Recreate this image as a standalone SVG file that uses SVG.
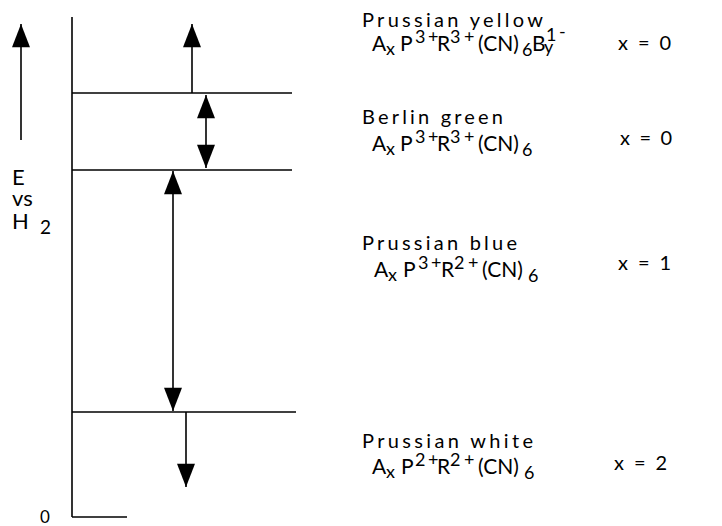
<svg xmlns="http://www.w3.org/2000/svg" width="722" height="526" viewBox="0 0 722 526">
<style>
.ln{stroke:#000;stroke-width:1.6;fill:none}
.ar{stroke:#000;stroke-width:1.6;fill:none;marker-end:url(#ah)}
.ar2{stroke:#000;stroke-width:1.6;fill:none;marker-end:url(#ah);marker-start:url(#ah)}
text{font-family:Lato,"Liberation Sans",sans-serif;fill:#000}
.t{font-size:20px}
.f{font-size:21px}
.s{font-size:18px}
.ax{font-size:22px}
</style>
<defs>
<marker id="ah" markerUnits="userSpaceOnUse" markerWidth="24" markerHeight="18" refX="22" refY="8.5" orient="auto-start-reverse" viewBox="0 0 22 17">
<path d="M0,0 L22,8.5 L0,17 z" fill="#000"/>
</marker>
</defs>
<rect width="722" height="526" fill="#fff"/>
<g id="axis">
<line class="ln" x1="72" y1="17" x2="72" y2="517"/>
<line class="ln" x1="72" y1="517" x2="127" y2="517"/>
<text class="ax" x="12" y="185">E</text>
<text class="ax" x="12" y="206">vs</text>
<text class="ax" x="12" y="229">H<tspan x="40" y="234" font-size="19">2</tspan></text>
<text x="40" y="523" font-size="17">0</text>
</g>
<g id="level-yellow">
<line class="ln" x1="72" y1="93" x2="292" y2="93"/>
<text class="t" x="362" y="27" textLength="181" lengthAdjust="spacing">Prussian yellow</text>
<text class="f" x="372" y="51">A<tspan class="s" x="386" y="55">x</tspan><tspan x="400" y="51">P</tspan><tspan class="s" x="415" y="43">3</tspan><tspan class="s" x="428" y="43">+</tspan><tspan x="437" y="51">R</tspan><tspan class="s" x="450" y="43">3</tspan><tspan class="s" x="464" y="43">+</tspan><tspan x="478" y="51">(CN)</tspan><tspan class="s" x="522" y="56">6</tspan><tspan x="532" y="51">B</tspan><tspan class="s" x="546" y="41">1</tspan><tspan class="s" x="544" y="53">y</tspan><tspan class="s" x="559" y="38">-</tspan></text>
<text class="t" x="618" y="50" textLength="53" lengthAdjust="spacing">x = 0</text>
</g>
<g id="level-berlin">
<line class="ln" x1="72" y1="170" x2="292" y2="170"/>
<text class="t" x="362" y="124" textLength="141" lengthAdjust="spacing">Berlin green</text>
<text class="f" x="372" y="151">A<tspan class="s" x="386" y="155">x</tspan><tspan x="400" y="151">P</tspan><tspan class="s" x="415" y="143">3</tspan><tspan class="s" x="428" y="143">+</tspan><tspan x="437" y="151">R</tspan><tspan class="s" x="450" y="143">3</tspan><tspan class="s" x="464" y="143">+</tspan><tspan x="478" y="151">(CN)</tspan><tspan class="s" x="522" y="156">6</tspan></text>
<text class="t" x="620" y="145" textLength="52" lengthAdjust="spacing">x = 0</text>
</g>
<g id="level-blue">
<text class="t" x="362" y="250" textLength="155" lengthAdjust="spacing">Prussian blue</text>
<text class="f" x="374" y="277">A<tspan class="s" x="388" y="281">x</tspan><tspan x="403" y="277">P</tspan><tspan class="s" x="418" y="269">3</tspan><tspan class="s" x="431" y="269">+</tspan><tspan x="441" y="277">R</tspan><tspan class="s" x="454" y="269">2</tspan><tspan class="s" x="468" y="269">+</tspan><tspan x="482" y="277">(CN)</tspan><tspan class="s" x="528" y="282">6</tspan></text>
<text class="t" x="618" y="270" textLength="53" lengthAdjust="spacing">x = 1</text>
</g>
<g id="level-white">
<line class="ln" x1="72" y1="412" x2="296" y2="412"/>
<text class="t" x="362" y="448" textLength="171" lengthAdjust="spacing">Prussian white</text>
<text class="f" x="372" y="474">A<tspan class="s" x="386" y="478">x</tspan><tspan x="401" y="474">P</tspan><tspan class="s" x="415" y="466">2</tspan><tspan class="s" x="428" y="466">+</tspan><tspan x="437" y="474">R</tspan><tspan class="s" x="450" y="466">2</tspan><tspan class="s" x="464" y="466">+</tspan><tspan x="478" y="474">(CN)</tspan><tspan class="s" x="524" y="479">6</tspan></text>
<text class="t" x="614" y="470" textLength="53" lengthAdjust="spacing">x = 2</text>
</g>
<g id="connectors">
<line class="ar" x1="21" y1="140" x2="21" y2="24"/>
<line class="ar" x1="192" y1="93" x2="192" y2="24"/>
<line class="ar2" x1="206" y1="95" x2="206" y2="168"/>
<line class="ar2" x1="173" y1="171" x2="173" y2="411"/>
<line class="ar" x1="186" y1="412" x2="186" y2="487"/>
</g>
</svg>
